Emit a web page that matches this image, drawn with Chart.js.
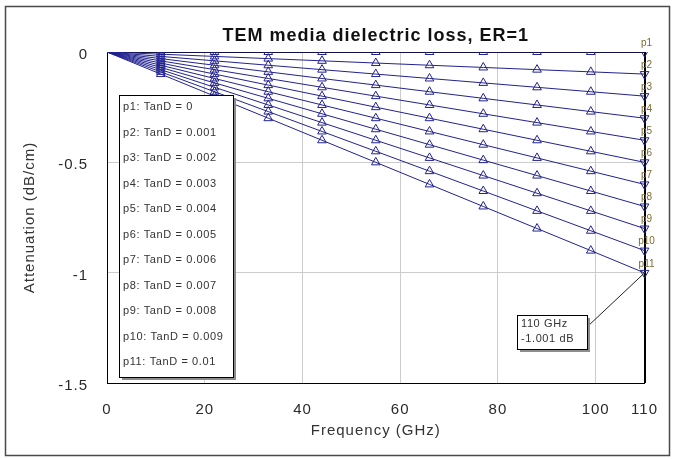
<!DOCTYPE html>
<html lang="en">
<head>
<meta charset="utf-8">
<title>TEM media dielectric loss, ER=1</title>
<script src="https://cdn.jsdelivr.net/npm/chart.js@4/dist/chart.umd.min.js"></script>
<style>
  html, body { margin: 0; padding: 0; background: #fff; }
  canvas { display: block; }
</style>
</head>
<body>
<canvas id="grafico-perdidas" width="676" height="459"></canvas>
<script>
'use strict';

// Datos (GHz / dB/cm)
const frecuencias = [0, 11, 22, 33, 44, 55, 66, 77, 88, 99, 110];
const marcasX = [0, 20, 40, 60, 80, 100, 110];
const marcasY = [0, -0.5, -1, -1.5];

const p1 = [0, 0, 0, 0, 0, 0, 0, 0, 0, 0, 0];
const p2 = [0, -0.01, -0.02, -0.03, -0.04, -0.05, -0.06, -0.07, -0.08, -0.09, -0.1];
const p3 = [0, -0.02, -0.04, -0.06, -0.08, -0.1, -0.12, -0.14, -0.16, -0.18, -0.2];
const p4 = [0, -0.03, -0.06, -0.09, -0.12, -0.15, -0.18, -0.21, -0.24, -0.27, -0.3];
const p5 = [0, -0.04, -0.08, -0.12, -0.16, -0.2, -0.24, -0.28, -0.32, -0.36, -0.4];
const p6 = [0, -0.05, -0.1, -0.15, -0.2, -0.25, -0.3, -0.35, -0.4, -0.45, -0.5];
const p7 = [0, -0.06, -0.12, -0.18, -0.24, -0.3, -0.36, -0.42, -0.48, -0.54, -0.6];
const p8 = [0, -0.07, -0.14, -0.21, -0.28, -0.35, -0.42, -0.49, -0.56, -0.63, -0.7];
const p9 = [0, -0.08, -0.16, -0.24, -0.32, -0.4, -0.48, -0.56, -0.64, -0.72, -0.8];
const p10 = [0, -0.09, -0.18, -0.27, -0.36, -0.45, -0.54, -0.63, -0.72, -0.81, -0.9];
const p11 = [0, -0.1, -0.2, -0.3, -0.4, -0.5, -0.6, -0.7, -0.8, -0.9, -1.001];

const series = [p1, p2, p3, p4, p5, p6, p7, p8, p9, p10, p11];
const nombres = ['p1', 'p2', 'p3', 'p4', 'p5', 'p6', 'p7', 'p8', 'p9', 'p10', 'p11'];
const tanD = ['0', '0.001', '0.002', '0.003', '0.004', '0.005', '0.006', '0.007', '0.008', '0.009', '0.01'];
const marcador = ['110 GHz', '-1.001 dB'];

const colorLinea = '#22228f';
const fuente = '"Liberation Sans", Arial, sans-serif';

Chart.defaults.font.family = fuente;

/**
 * Dibuja una caja blanca con borde negro y sombra gris.
 */
function dibujarCaja(ctx, x, y, w, h) {
    ctx.fillStyle = '#8c8c8c';
    ctx.fillRect(x + 3, y + 3, w, h);
    ctx.fillStyle = '#fff';
    ctx.fillRect(x, y, w, h);
    ctx.strokeStyle = '#000';
    ctx.lineWidth = 1;
    ctx.strokeRect(x + 0.5, y + 0.5, w, h);
}

// Marco exterior, espaciado de letras y anotaciones
const decoracion = {
    id: 'decoracion',
    beforeLayout(chart) {
        chart.ctx.letterSpacing = '1px';
    },
    beforeDraw(chart) {
        const ctx = chart.ctx;
        ctx.letterSpacing = '1px';
        ctx.save();
        ctx.fillStyle = '#fff';
        ctx.fillRect(0, 0, chart.width, chart.height);
        ctx.strokeStyle = '#4a4a4a';
        ctx.lineWidth = 1.5;
        ctx.strokeRect(5.5, 6.5, 664, 449);
        ctx.restore();
    },
    afterDraw(chart) {
        const ctx = chart.ctx;
        ctx.save();

        // Etiquetas p1..p11 sobre los marcadores finales
        ctx.letterSpacing = '0px';
        ctx.font = '10px ' + fuente;
        ctx.fillStyle = '#7d6a2e';
        ctx.textAlign = 'center';
        ctx.textBaseline = 'middle';
        nombres.forEach((nombre, i) => {
            const puntos = chart.getDatasetMeta(i).data;
            const ultimo = puntos[puntos.length - 1];
            ctx.fillText(nombre, ultimo.x + 2, ultimo.y - 9);
        });

        // Leyenda
        dibujarCaja(ctx, 119, 95, 114, 282);
        ctx.letterSpacing = '0.6px';
        ctx.font = '11px ' + fuente;
        ctx.fillStyle = '#333';
        ctx.textAlign = 'left';
        nombres.forEach((nombre, i) => {
            ctx.fillText(`${nombre}: TanD = ${tanD[i]}`, 123, 107 + i * 25.5);
        });

        // Marcador en 110 GHz
        const puntosP11 = chart.getDatasetMeta(10).data;
        const fin = puntosP11[puntosP11.length - 1];
        ctx.strokeStyle = '#222';
        ctx.lineWidth = 1;
        ctx.beginPath();
        ctx.moveTo(587, 327);
        ctx.lineTo(fin.x, fin.y);
        ctx.stroke();
        dibujarCaja(ctx, 517, 315, 70, 34);
        ctx.fillStyle = '#333';
        ctx.fillText(marcador[0], 521, 324);
        ctx.fillText(marcador[1], 521, 339);

        ctx.restore();
    }
};

const conjuntos = series.map((valores, i) => ({
    label: nombres[i],
    data: frecuencias.map((f, j) => ({ x: f, y: valores[j] })),
    borderColor: colorLinea,
    borderWidth: 1,
    pointStyle: 'triangle',
    pointRadius: valores.map((v, j) => (j === 0 ? 0 : 5)),
    pointRotation: valores.map((v, j) => (j === valores.length - 1 ? 180 : 0)),
    pointBorderColor: colorLinea,
    pointBackgroundColor: 'rgba(255,255,255,0)',
    pointBorderWidth: 1,
    tension: 0,
    clip: { left: 10, top: 0, right: 10, bottom: 10 }
}));

new Chart(document.getElementById('grafico-perdidas'), {
    type: 'line',
    data: { datasets: conjuntos },
    options: {
        responsive: false,
        animation: false,
        devicePixelRatio: 1,
        events: [],
        layout: { padding: { left: 0, right: 31, top: 0, bottom: 0 } },
        plugins: {
            legend: { display: false },
            tooltip: { enabled: false },
            title: {
                display: true,
                text: 'TEM media dielectric loss, ER=1',
                color: '#111',
                font: { size: 18, weight: 'bold' },
                padding: { top: 25, bottom: 5.4 },
                fullSize: false
            }
        },
        scales: {
            x: {
                type: 'linear',
                min: 0,
                max: 110,
                afterBuildTicks: s => { s.ticks = marcasX.map(v => ({ value: v })); },
                afterFit: s => { s.height = 76; },
                grid: {
                    drawTicks: false,
                    color: c => (c.tick && c.tick.value === 110 ? '#000' : '#cccccc'),
                    lineWidth: c => (c.tick && c.tick.value === 110 ? 2 : 1)
                },
                border: { color: '#000', width: 1 },
                ticks: {
                    padding: 18,
                    color: '#2a2a2a',
                    font: { size: 15 },
                    maxRotation: 0,
                    autoSkip: false,
                    callback: v => String(v)
                },
                title: {
                    display: true,
                    text: 'Frequency (GHz)',
                    color: '#333',
                    font: { size: 15 },
                    padding: { top: 0, bottom: 19 }
                }
            },
            y: {
                min: -1.5,
                max: 0,
                afterBuildTicks: s => { s.ticks = marcasY.map(v => ({ value: v })); },
                afterFit: s => { s.width = 107; },
                grid: {
                    drawTicks: false,
                    color: c => (c.tick && c.tick.value === 0 ? '#000' : '#cccccc')
                },
                border: { color: '#000', width: 1 },
                ticks: {
                    padding: 19,
                    labelOffset: 3,
                    color: '#2a2a2a',
                    font: { size: 15 },
                    callback: v => String(v)
                },
                title: {
                    display: true,
                    text: 'Attenuation (dB/cm)',
                    color: '#333',
                    font: { size: 15 },
                    padding: { top: 21, bottom: 0 }
                }
            }
        }
    },
    plugins: [decoracion]
});
</script>
</body>
</html>
